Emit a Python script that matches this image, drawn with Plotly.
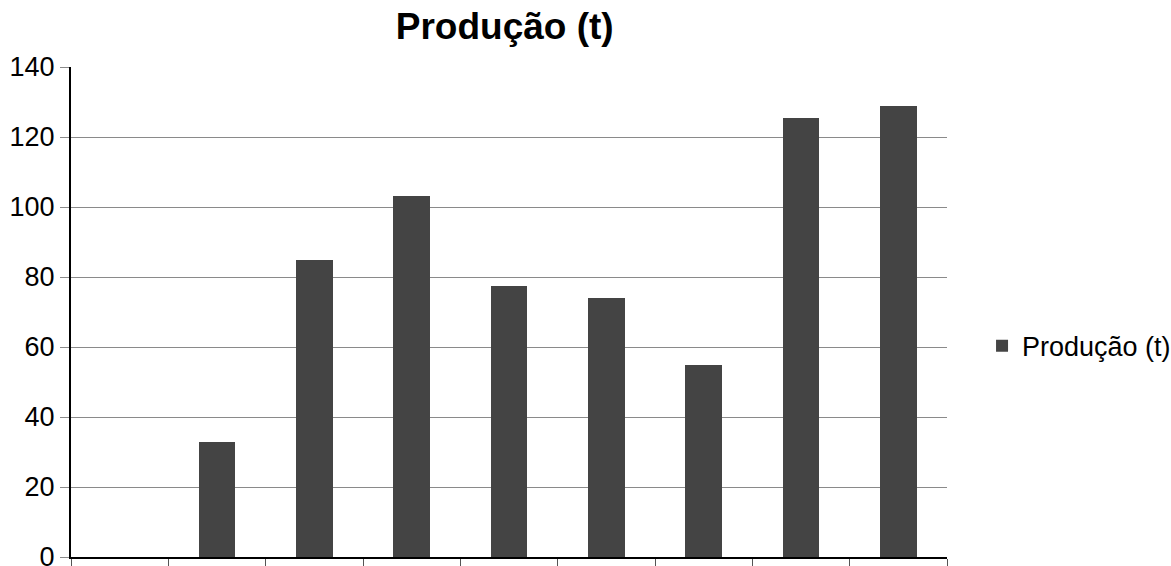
import plotly.graph_objects as go

# Data
periods = [1, 2, 3, 4, 5, 6, 7, 8, 9]
producao = [None, 32.8, 84.9, 103.1, 77.4, 74.0, 54.9, 125.4, 129.0]
series_name = "Produção (t)"
y_ticks = [0, 20, 40, 60, 80, 100, 120, 140]

FONT = "Liberation Sans, Arial, sans-serif"

fig = go.Figure()
fig.add_trace(go.Bar(
    x=periods,
    y=producao,
    name=series_name,
    width=0.38,
    marker=dict(color="#444444", line=dict(width=0)),
    showlegend=True,
))

boundaries = [p - 0.5 for p in periods] + [periods[-1] + 0.5]

fig.update_layout(
    width=1171,
    height=566,
    margin=dict(l=71, r=224, t=67, b=9, autoexpand=False),
    paper_bgcolor="white",
    plot_bgcolor="white",
    font=dict(family=FONT, size=27, color="black"),
    title=dict(
        text="<b>Produção (t)</b>",
        font=dict(family=FONT, size=37, color="black"),
        x=0.431, xanchor="center",
        y=1 - 26 / 566, yanchor="middle",
        xref="container", yref="container",
    ),
    showlegend=True,
    legend=dict(
        x=1.040, xanchor="left",
        y=0.43, yanchor="middle",
        font=dict(family=FONT, size=27, color="black"),
        bgcolor="rgba(0,0,0,0)",
    ),
    bargap=0,
)

fig.update_xaxes(
    range=[periods[0] - 0.5, periods[-1] + 0.5],
    tickmode="array",
    tickvals=boundaries,
    showticklabels=False,
    ticks="outside",
    ticklen=10,
    tickcolor="#555555",
    tickwidth=1,
    showgrid=False,
    zeroline=False,
    showline=True,
    linecolor="black",
    linewidth=2,
    automargin=False,
)

fig.update_yaxes(
    range=[0, 140],
    tickmode="array",
    tickvals=y_ticks,
    ticks="outside",
    ticklen=9,
    tickcolor="#8a8a8a",
    tickwidth=1,
    showgrid=True,
    gridcolor="#8a8a8a",
    gridwidth=1,
    zeroline=False,
    showline=True,
    linecolor="black",
    linewidth=2,
    tickfont=dict(family=FONT, size=27, color="black"),
    ticklabeloverflow="allow",
    automargin=False,
)

fig.write_html("out.html")
